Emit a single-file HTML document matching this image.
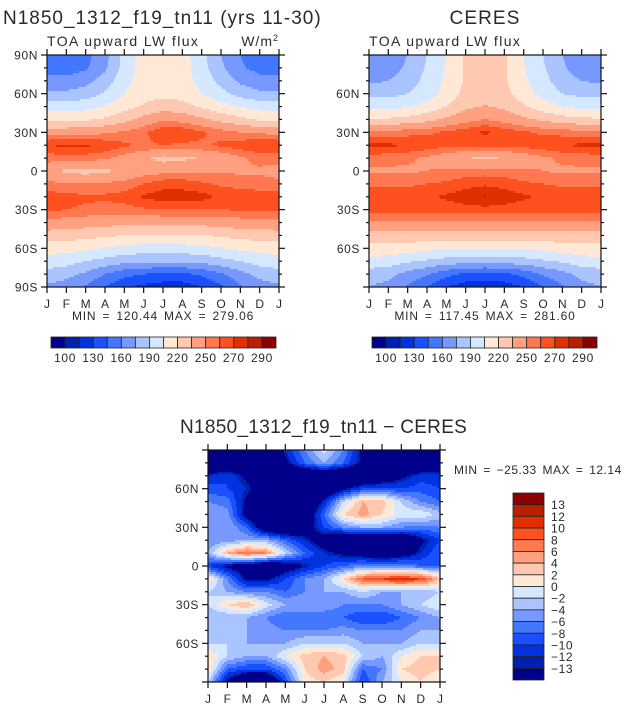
<!DOCTYPE html>
<html><head><meta charset="utf-8"><style>
body{margin:0;background:#fff;}
svg{display:block;font-family:"Liberation Sans",sans-serif;fill:#2a2a2a;}
</style></head><body>
<svg id="fig" width="632" height="710" viewBox="0 0 632 710" xmlns="http://www.w3.org/2000/svg">
<text x="3" y="24" font-size="19" letter-spacing="1">N1850_1312_f19_tn11 (yrs 11-30)</text>
<text x="485" y="24" font-size="19" letter-spacing="1.1" text-anchor="middle">CERES</text>
<text x="47" y="46" font-size="14" letter-spacing="1.4">TOA upward LW flux</text>
<text x="279" y="46" font-size="14" letter-spacing="1" text-anchor="end">W/m<tspan dy="-5" font-size="9">2</tspan></text>
<text x="369" y="46" font-size="14" letter-spacing="1.4">TOA upward LW flux</text>
<text x="163" y="320" font-size="12" letter-spacing="0.8" word-spacing="2" text-anchor="middle">MIN = 120.44 MAX = 279.06</text>
<text x="485" y="320" font-size="12" letter-spacing="0.8" word-spacing="2" text-anchor="middle">MIN = 117.45 MAX = 281.60</text>
<text x="180" y="433" font-size="19" letter-spacing="0.3">N1850_1312_f19_tn11 − CERES</text>
<text x="454" y="474" font-size="12" letter-spacing="0.5" word-spacing="2">MIN = −25.33 MAX =  12.14</text>
</svg>
<script>
const months=["J","F","M","A","M","J","J","A","S","O","N","D","J"];
const absLevels=[100,115,130,145,160,175,190,205,220,235,250,260,270,280,290];
const absLabels=["100","130","160","190","220","250","270","290"];
const diffLevels=[-13,-12,-10,-8,-6,-4,-2,0,2,4,6,8,10,12,13];
const diffLabels=["13","12","10","8","6","4","2","0","−2","−4","−6","−8","−10","−12","−13"];
const palette=["#00008b","#0020b0","#0033dd","#1a50ff","#4477ff","#7799ff","#aac4ff","#d6e8ff","#ffe8d6","#ffc8b0","#ffa080","#ff7850","#ff5020","#e03000","#b82000","#8b0000"];
const modelField=[
[150,148,155,170,195,212,218,212,195,175,160,150,150],
[155,152,158,172,196,212,215,212,196,178,162,155,155],
[165,165,170,182,200,212,214,212,200,185,172,165,165],
[178,178,182,192,205,214,216,214,205,195,184,178,178],
[198,198,200,206,214,222,228,225,218,210,204,200,198],
[215,215,218,222,230,240,248,245,238,230,224,218,215],
[245,245,245,248,252,258,268,268,262,255,250,248,245],
[270,272,272,268,262,258,260,258,258,262,266,270,270],
[255,255,255,252,245,238,230,232,236,240,248,254,255],
[240,232,230,232,238,244,246,248,248,248,248,248,244],
[254,250,250,252,254,260,266,266,262,258,256,255,254],
[265,264,262,262,264,272,275,275,274,268,266,265,265],
[262,260,258,256,256,258,260,260,260,260,261,262,262],
[245,244,242,240,240,240,240,240,240,242,244,245,245],
[228,227,225,222,220,218,218,218,219,222,225,227,228],
[212,210,208,204,200,198,198,198,200,204,208,210,212],
[198,196,190,185,180,178,178,178,180,185,190,196,198],
[185,180,172,160,150,145,142,142,148,158,170,180,185],
[172,168,158,145,132,126,122,122,130,142,158,168,172]];
const ceresField=[
[160,165,175,190,205,222,228,222,205,190,175,162,160],
[162,168,178,192,206,222,226,222,206,192,178,165,162],
[172,175,182,195,208,222,225,222,208,195,182,175,172],
[185,185,190,198,210,225,228,225,212,200,190,186,185],
[200,200,204,210,220,232,236,232,222,212,205,201,200],
[222,222,225,230,238,245,250,245,238,232,226,223,222],
[255,255,256,258,262,266,272,266,262,258,256,255,255],
[272,272,270,266,263,262,262,262,264,266,270,272,272],
[255,254,252,248,242,236,232,236,242,248,252,254,255],
[248,248,248,250,252,254,255,254,252,250,248,248,248],
[258,258,258,260,262,266,268,266,262,260,258,258,258],
[266,266,266,268,272,276,281,276,272,268,266,266,266],
[264,264,264,264,264,266,266,266,264,264,264,264,264],
[248,248,248,248,248,248,248,248,248,248,248,248,248],
[230,230,230,230,230,230,230,230,230,230,230,230,230],
[215,214,212,208,206,205,205,205,206,208,212,214,215],
[200,198,192,188,184,182,182,182,184,188,192,198,200],
[182,180,170,162,150,142,140,142,150,162,170,180,182],
[175,170,158,145,130,122,118,122,130,145,158,170,175]];
const diffField=[
[-20,-20,-20,-20,-12,-6,-1,-6,-14,-20,-20,-20,-20],
[-20,-20,-20,-20,-14,-8,-4,-8,-14,-20,-20,-20,-20],
[-12,-10,-14,-18,-20,-20,-20,-20,-20,-18,-14,-11,-11],
[-9,-10,-12,-16,-20,-20,-20,-14,-10,-9,-10,-9,-10],
[-6,-7,-14,-18,-20,-20,-12,-2,4,3,-2,-6,-8],
[-4,-5,-15,-20,-20,-18,-8,2,5,2,-1,0,-3],
[-6,-4,-8,-18,-20,-16,-10,-6,-4,-4,-6,-7,-6],
[-6,-5,-4,-4,-8,-12,-16,-20,-20,-20,-20,-14,-10],
[-4,4,8,6,-2,-8,-12,-14,-16,-18,-16,-12,-8],
[-10,-14,-16,-20,-16,-13,-10,-8,-6,-6,-6,-8,-8],
[2,-6,-14,-14,-10,-6,-4,2,8,10,11,10,3],
[-2,-4,-6,-6,-8,-6,-4,-4,-2,-4,-4,-4,-2],
[-2,2,4,-1,-4,-4,-4,-6,-6,-6,-4,-2,0],
[-4,-4,-4,-6,-8,-8,-8,-8,-10,-10,-8,-6,-4],
[-4,-4,-4,-5,-6,-6,-6,-5,-6,-6,-6,-4,-4],
[-2,-2,-4,-4,-4,-2,-2,-2,-4,-4,-4,-2,-2],
[2,-2,-4,-4,0,3,4,3,-2,-4,0,2,2],
[2,-8,-10,-10,-6,2,5,3,-8,-6,2,3,2],
[-2,-14,-20,-20,-10,1,2,0,-10,-4,0,2,0]];
const latLabelsFull=["90N","60N","30N","0","30S","60S","90S"];
const latLabelsInner=["","60N","30N","0","30S","60S",""];

const NS="http://www.w3.org/2000/svg";
const svg=document.getElementById('fig');
function mk(tag,attrs,parent){const e=document.createElementNS(NS,tag);for(const k in attrs)e.setAttribute(k,attrs[k]);(parent||svg).appendChild(e);return e;}
function colorIdx(v,levels){let i=0;while(i<levels.length&&v>=levels[i])i++;return i;}
function sample(grid,t,r){const nR=grid.length-1,nC=grid[0].length-1;
 const r0=Math.min(Math.floor(r),nR-1),c0=Math.min(Math.floor(t),nC-1);const fr=r-r0,fc=t-c0;
 return grid[r0][c0]*(1-fr)*(1-fc)+grid[r0][c0+1]*(1-fr)*fc+grid[r0+1][c0]*fr*(1-fc)+grid[r0+1][c0+1]*fr*fc;}

function plot(name,grid,levels,x0,y0,w,h,latLabels){
 const g=mk('g',{});
 
 
 const xs=t=>x0+t/12*w; const ys=lat=>y0+(90-lat)/180*h;
 const step=2;
 for(let py=0;py<h;py+=step){
  const r=(py+step/2)/h*(grid.length-1);
  let runStart=0,runC=-1;
  for(let px=0;px<=w;px++){
   let c=-2;
   if(px<w){const t=(px+0.5)/w*12;c=colorIdx(sample(grid,t,r),levels);}
   if(c!==runC){
    if(runC>=0){const rc=mk('rect',{x:x0+runStart,y:y0+py,width:px-runStart,height:Math.min(step,h-py)+0.3,fill:palette[runC]},g);
     
     }
    runStart=px;runC=c;}
  }
 }
 const fr=mk('rect',{x:x0,y:y0,width:w,height:h,fill:'none',stroke:'#111','stroke-width':1.2},g);
 
 
 for(let m=0;m<13;m++){const X=xs(m);
  mk('line',{x1:X,y1:y0,x2:X,y2:y0-6,stroke:'#111','stroke-width':1.2},g);
  mk('line',{x1:X,y1:y0+h,x2:X,y2:y0+h+6,stroke:'#111','stroke-width':1.2},g);
  const tl=mk('text',{x:X,y:y0+h+21,'font-size':12,'text-anchor':'middle'},g);tl.textContent=months[m];
  
  }
 for(let lat=90;lat>=-90;lat-=10){const Y=ys(lat);const major=lat%30===0;const L=major?6:3;
  mk('line',{x1:x0,y1:Y,x2:x0-L,y2:Y,stroke:'#111','stroke-width':1.2},g);
  mk('line',{x1:x0+w,y1:Y,x2:x0+w+L,y2:Y,stroke:'#111','stroke-width':1.2},g);
  if(major){const s=latLabels[(90-lat)/30];if(s){const tl=mk('text',{x:x0-9,y:Y+4.5,'font-size':12,'letter-spacing':0.6,'text-anchor':'end'},g);tl.textContent=s;
   
   }}}
}
function hbar(name,x0,y0,w,h,labels){
 const g=mk('g',{});
 
 
 const bw=w/palette.length;
 palette.forEach((c,i)=>{const r=mk('rect',{x:x0+i*bw,y:y0,width:bw,height:h,fill:c,stroke:'#222','stroke-width':0.8},g);
  
  });
 labels.forEach((s,j)=>{const X=x0+(1+2*j)*bw;const t=mk('text',{x:X,y:y0+h+14,'font-size':12,'letter-spacing':0.6,'text-anchor':'middle'},g);t.textContent=s;
  
  });
}
function vbar(name,x0,y0,w,h,labels){
 const g=mk('g',{});
 
 
 const bh=h/palette.length;
 palette.slice().reverse().forEach((c,i)=>{const r=mk('rect',{x:x0,y:y0+i*bh,width:w,height:bh,fill:c,stroke:'#222','stroke-width':0.8},g);
  
  });
 labels.forEach((s,j)=>{const Y=y0+(j+1)*bh;const t=mk('text',{x:x0+w+7,y:Y+4.5,'font-size':12,'letter-spacing':0.6},g);t.textContent=s;
  
  });
}
plot('model-plot',modelField,absLevels,47,55,232,232,latLabelsFull);
plot('ceres-plot',ceresField,absLevels,369,55,232,232,latLabelsInner);
plot('diff-plot',diffField,diffLevels,208,450,232,232,latLabelsInner);
hbar('model-colorbar',51,337,225,11,absLabels);
hbar('ceres-colorbar',372,337,225,11,absLabels);
vbar('diff-colorbar',513,493,31,187,diffLabels);
</script>
</body></html>
